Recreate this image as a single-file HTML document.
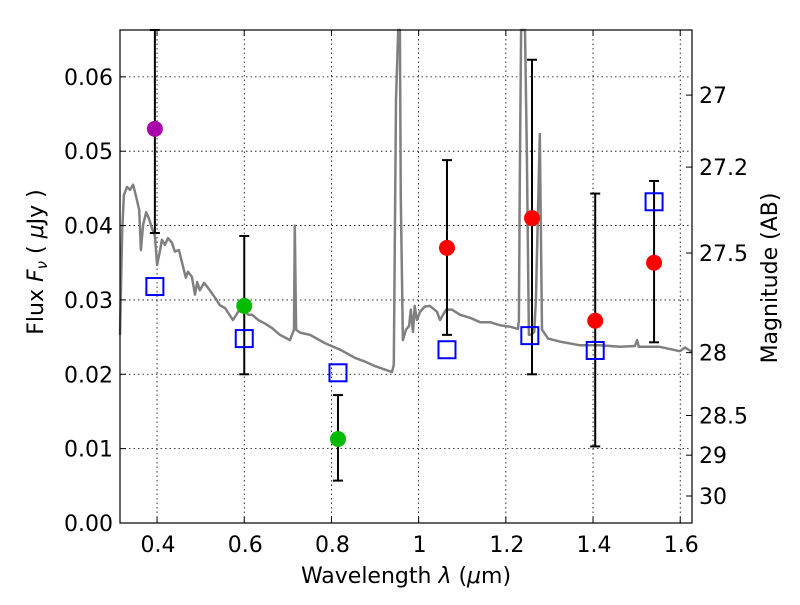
<!DOCTYPE html>
<html><head><meta charset="utf-8"><style>
body{margin:0;background:#fff}
svg text{font-family:"DejaVu Sans","Liberation Sans",sans-serif;fill:#000}
</style></head><body>
<svg id="chart" width="800" height="600" viewBox="0 0 800 600">
<rect width="800" height="600" fill="#fff"/>
<g id="grid"></g>
<g id="spec"></g>
<g id="marks"></g>
<rect x="120" y="30" width="572" height="493" fill="none" stroke="#000" stroke-width="1.2"/>
<g id="axes"></g>
<text x="406" y="583" font-size="22" text-anchor="middle">Wavelength  <tspan font-style="italic">λ</tspan> (<tspan font-style="italic">μ</tspan>m)</text>
<text transform="translate(43,262) rotate(-90)" font-size="22" text-anchor="middle">Flux  <tspan font-style="italic">F</tspan><tspan font-style="italic" font-size="15" dy="4">ν</tspan><tspan dy="-4">  (  </tspan><tspan font-style="italic">μ</tspan>Jy )</text>
<text transform="translate(777,278) rotate(-90)" font-size="22" text-anchor="middle">Magnitude (AB)</text>
</svg>
<script>
const xTicks=[0.4,0.6,0.8,1.0,1.2,1.4,1.6];
const xTickLabels=["0.4","0.6","0.8","1","1.2","1.4","1.6"];
const yTicks=[0,0.01,0.02,0.03,0.04,0.05,0.06];
const yTickLabels=["0.00","0.01","0.02","0.03","0.04","0.05","0.06"];
const magTicks=[27,27.2,27.5,28,28.5,29,30];
const magTickLabels=["27","27.2","27.5","28","28.5","29","30"];
const specLam=[.315,.320,.324,.331,.338,.345,.352,.359,.363,.368,.375,.381,.388,.395,.400,.407,.411,.418,.425,.434,.441,.450,.457,.466,.471,.480,.487,.492,.498,.508,.521,.533,.544,.556,.574,.595,.609,.618,.632,.648,.664,.682,.705,.714,.716,.719,.728,.751,.785,.820,.854,.877,.900,.939,.943,.948,.953,.957,.959,.964,.971,.978,.982,.987,.991,.996,1.003,1.014,1.026,1.042,1.049,1.063,1.076,1.095,1.118,1.141,1.164,1.186,1.209,1.228,1.230,1.232,1.235,1.244,1.248,1.253,1.258,1.265,1.269,1.278,1.283,1.297,1.324,1.370,1.416,1.462,1.496,1.501,1.505,1.553,1.599,1.611,1.627];
const specFlux=[.0253,.0394,.0441,.0452,.0448,.0455,.0439,.0421,.0367,.0401,.0418,.0410,.0397,.0386,.0347,.0367,.0381,.0374,.0383,.0377,.0365,.0367,.0351,.0330,.0338,.0331,.0307,.0324,.0313,.0323,.0313,.0303,.0293,.0289,.0273,.0292,.0280,.0280,.0273,.0268,.0262,.0253,.0246,.0260,.0400,.0260,.0256,.0253,.0242,.0233,.0222,.0217,.0211,.0203,.0213,.0569,.07,.07,.0435,.0246,.0260,.0265,.0287,.0257,.0292,.0273,.0284,.0291,.0292,.0284,.0273,.0287,.0287,.0280,.0276,.0270,.0270,.0266,.0264,.0261,.0273,.0461,.07,.07,.0502,.0253,.0253,.0257,.0300,.0523,.0260,.0248,.0244,.0239,.0239,.0237,.0238,.0246,.0237,.0237,.0231,.0236,.0230];
const ptLam=[0.395,0.6,0.815,1.065,1.26,1.405,1.54];
const ptFlux=[0.053,0.0292,0.0113,0.037,0.041,0.0272,0.035];
const errLo=[0.039,0.020,0.0057,0.0253,0.020,0.0103,0.0243];
const errHi=[0.08,0.0386,0.0172,0.0488,0.0623,0.0443,0.046];
const ptColors=["#aa00aa","#00bb00","#00bb00","#ff0000","#ff0000","#ff0000","#ff0000"];
const modelLam=[0.395,0.6,0.815,1.065,1.255,1.405,1.54];
const modelFlux=[0.0318,0.0248,0.0202,0.0233,0.0252,0.0232,0.0432];

const X0=120,X1=692,Y0=523,Y1=30,LMIN=0.315,LMAX=1.627,FMIN=0,FMAX=0.0663;
const sx=l=>X0+(l-LMIN)/(LMAX-LMIN)*(X1-X0);
const sy=f=>Y0-(f-FMIN)/(FMAX-FMIN)*(Y0-Y1);
const magToF=m=>Math.pow(10,(23.9-m)/2.5);
const NS="http://www.w3.org/2000/svg";
function mk(tag,attrs,parent){const e=document.createElementNS(NS,tag);for(const k in attrs)e.setAttribute(k,attrs[k]);parent.appendChild(e);return e;}
const grid=document.getElementById('grid'),axes=document.getElementById('axes'),spec=document.getElementById('spec'),marks=document.getElementById('marks');
xTicks.forEach((t,i)=>{const x=sx(t);
 const g=mk('line',{x1:x,x2:x,y1:Y1,y2:Y0,stroke:'#000','stroke-width':0.8,'stroke-dasharray':'1.5,3'},grid);
 
 mk('line',{x1:x,x2:x,y1:Y0,y2:Y0-6,stroke:'#000'},axes);mk('line',{x1:x,x2:x,y1:Y1,y2:Y1+6,stroke:'#000'},axes);
 const tx=mk('text',{x:x+1,y:Y0+29,'font-size':22,'text-anchor':'middle'},axes);tx.textContent=xTickLabels[i];
 });
yTicks.forEach((t,i)=>{const y=sy(t);
 const g=mk('line',{x1:X0,x2:X1,y1:y,y2:y,stroke:'#000','stroke-width':0.8,'stroke-dasharray':'1.5,3'},grid);
 
 mk('line',{x1:X0,x2:X0+6,y1:y,y2:y,stroke:'#000'},axes);
 const tx=mk('text',{x:X0-7,y:y+8,'font-size':22,'text-anchor':'end'},axes);tx.textContent=yTickLabels[i];
 });
magTicks.forEach((m,i)=>{const y=sy(magToF(m));
 mk('line',{x1:X1-6,x2:X1,y1:y,y2:y,stroke:'#000'},axes);
 const tx=mk('text',{x:X1+7,y:y+8,'font-size':22},axes);tx.textContent=magTickLabels[i];
 });
let d='';specLam.forEach((l,i)=>{d+=(i?'L':'M')+sx(l).toFixed(1)+','+Math.max(Y1,sy(specFlux[i])).toFixed(1);});
const sp=mk('path',{d:d,fill:'none',stroke:'#808080','stroke-width':2.5,'stroke-linejoin':'round'},spec);

ptLam.forEach((l,i)=>{const x=sx(l),yl=sy(errLo[i]),yh=Math.max(Y1,sy(errHi[i]));
 const eb=mk('g',{},marks);
 mk('line',{x1:x,x2:x,y1:yl,y2:yh,stroke:'#000','stroke-width':2},eb);
 mk('line',{x1:x-5,x2:x+5,y1:yl,y2:yl,stroke:'#000','stroke-width':2},eb);
 mk('line',{x1:x-5,x2:x+5,y1:yh,y2:yh,stroke:'#000','stroke-width':2},eb);});
modelLam.forEach((l,i)=>{const r=mk('rect',{x:sx(l)-8.5,y:sy(modelFlux[i])-8.5,width:17,height:17,fill:'none',stroke:'#0000ff','stroke-width':2},marks);
 });
ptLam.forEach((l,i)=>{const c=mk('circle',{cx:sx(l),cy:sy(ptFlux[i]),r:8,fill:ptColors[i]},marks);
 });
</script>
</body></html>
